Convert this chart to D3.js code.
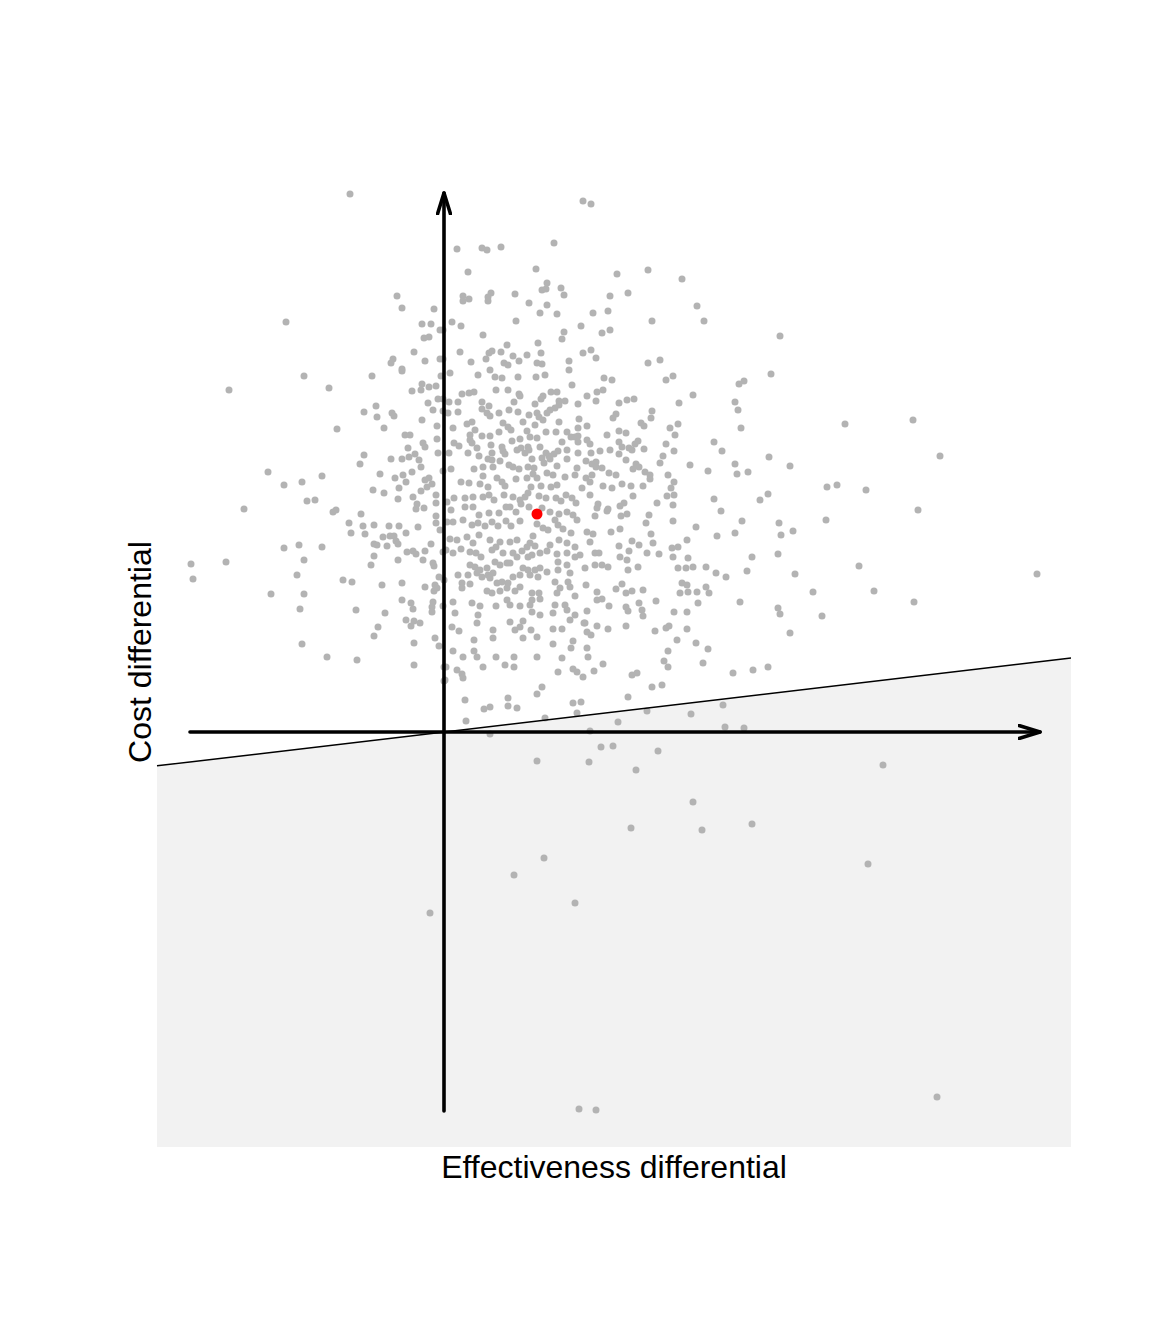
<!DOCTYPE html>
<html>
<head>
<meta charset="utf-8">
<script src="https://cdn.jsdelivr.net/npm/d3@7"></script>
<style>
  body { margin: 0; background: #fff; }
  text { font-family: "Liberation Sans", Arial, Helvetica, sans-serif; }
</style>
</head>
<body>
<div class="vis"></div>
<script>
// simulated [effect, cost] differentials, read off the plane
const sims = [
  [-94,538],[-158,410],[-47,436],[-42,424],[-10,423],[-22,408],[-13,408],[-1,402],[-20,394],[-15,395],
  [-30,380],[-51,373],[-53,369],[-19,371],[-1,373],[-42,363],
  [139,531],[147,528],[13,483],[38,484],[43,482],[57,485],[110,489],[92,463],[24,460],[173,458],
  [204,462],[238,453],[103,449],[98,442],[102,443],[117,444],[120,437],[19,436],[19,431],[25,433],
  [44,435],[44,431],[47,439],[71,438],[85,429],[103,427],[96,419],[113,418],[166,436],[184,439],
  [253,426],[260,411],[208,411],[149,419],[164,421],[8,410],[17,406],[72,411],[39,397],[137,406],
  [120,400],[118,393],[158,399],[166,402],[94,389],[63,387],[16,380],[48,381],[45,379],[57,380],
  [69,376],[83,377],[97,379],[42,373],[27,370],[60,369],[64,367],[75,371],[93,369],[98,368],
  [125,371],[139,379],[147,382],[152,374],[204,369],[216,372],[46,362],[125,362],[-4,402],[-4,373],
  [336,396],
  [327,358],[295,348],[300,351],[291,330],[294,322],[297,304],[401,308],[469,312],[496,276],[325,275],
  [291,268],[293,258],[304,260],[346,266],[383,245],[393,247],[422,242],[474,222],[316,232],[324,238],
  [298,211],[335,209],[382,212],[291,199],[337,197],[349,201],[308,175],[334,178],
  [-140,356],[-215,342],[-115,344],[-72,356],[-42,361],[-3,356],[-22,348],[-15,345],[-8,346],[-32,341],
  [-23,342],[-6,333],[-1,333],[-16,329],[-11,322],[-1,321],[-68,326],[-80,320],[-52,319],[-50,316],
  [-67,315],[-22,312],[-107,303],[-60,304],[-7,306],[-39,297],[-34,297],[-7,293],[-21,289],[-19,285],
  [-36,284],[-6,279],[-80,277],[-84,268],[-53,273],[-42,273],[-35,275],[-29,278],[-25,272],[-23,265],
  [-32,260],[-64,258],[-49,254],[-41,257],[-1,261],[-38,250],[-19,252],[-15,254],[-12,248],[-17,245],
  [-23,241],[-176,260],[-160,247],[-142,250],[-122,256],[-137,231],[-129,232],[-200,223],[-71,242],[-60,239],
  [-45,244],[-46,233],[-31,235],[-27,228],[-28,223],[-20,224],[-8,237],[-8,229],[-8,216],[-8,209],
  [-4,202],[-111,220],[-108,222],[-83,218],[-95,209],[-81,206],[-70,207],[-55,206],[-45,206],[-26,205],
  [-93,199],[-79,198],[-61,195],[-54,196],[-50,196],[-38,199],[-48,191],[-46,188],[-70,188],[-67,187],
  [-57,186],[-13,188],[-160,184],[-145,187],[-122,185],[-70,176],[-37,180],[-31,181],[-28,178],[-19,181],
  [-1,180],[-140,172],[-46,172],
  [-253,168],[-251,153],[-218,170],[-147,157],[-173,138],[-140,138],[-144,123],[-142,88],[-117,75],[-87,72],
  [-101,152],[-92,150],[-88,122],[-73,167],[-62,147],[-42,149],[-59,119],[-42,132],[-33,129],[-31,123],
  [-66,105],[-70,96],[-38,112],[-30,111],[-24,109],[-33,106],[-30,89],[-30,67],[-21,172],[-11,169],
  [-10,166],[-19,145],[-9,147],[-7,144],[-10,141],[-5,155],[0,152],[-11,130],[-12,125],[-12,120],
  [-1,126],[-9,94],[-5,86],[0,65],[0,51],
  [6,359],[34,357],[51,355],[58,354],[74,355],[92,355],[101,357],[128,347],[160,354],[168,352],
  [222,352],[229,356],[18,338],[25,339],[30,340],[52,342],[64,342],[75,338],[76,336],[99,336],
  [107,340],[113,340],[143,336],[153,340],[159,342],[152,331],[183,332],[190,333],[235,329],[249,337],
  [5,330],[14,330],[38,330],[45,326],[70,330],[91,328],[97,333],[115,331],[121,331],[134,328],
  [175,329],[4,319],[14,320],[38,323],[43,319],[46,316],[55,319],[65,322],[74,320],[85,317],
  [93,319],[95,315],[103,319],[106,322],[111,324],[115,327],[135,313],[169,314],[172,318],[208,321],
  [207,314],[197,309],[9,304],[28,310],[23,308],[31,302],[59,309],[64,305],[67,302],[79,310],
  [91,307],[99,312],[115,310],[134,304],[143,306],[134,296],[127,295],[175,301],[182,299],[163,297],
  [200,306],[226,304],[234,308],[231,297],[26,297],[38,296],[46,296],[55,300],[68,291],[76,293],
  [83,301],[86,295],[93,294],[102,300],[112,300],[123,300],[131,295],[10,289],[15,286],[26,292],
  [28,289],[33,284],[47,287],[58,285],[59,281],[77,284],[84,285],[85,282],[96,285],[102,279],
  [118,290],[134,290],[143,292],[146,288],[175,290],[178,285],[185,284],[191,288],[194,291],[200,283],
  [222,288],[230,281],[270,290],[278,281],[5,279],[24,279],[35,276],[44,273],[48,279],[61,278],
  [73,282],[81,279],[88,273],[98,274],[105,276],[110,278],[114,281],[123,282],[123,273],[134,279],
  [147,279],[156,281],[166,282],[175,278],[182,272],[188,282],[219,276],[216,269],[246,267],[264,261],
  [7,263],[30,263],[39,265],[39,256],[48,272],[49,265],[56,271],[65,267],[69,265],[75,263],
  [84,265],[90,264],[100,269],[106,273],[113,266],[133,264],[142,271],[148,268],[152,270],[152,265],
  [158,264],[165,259],[172,257],[192,268],[195,265],[201,260],[206,257],[189,263],[17,250],[25,249],
  [36,248],[44,245],[53,254],[58,250],[61,246],[72,253],[83,254],[89,258],[93,254],[103,259],
  [109,257],[97,246],[107,245],[113,247],[121,255],[131,257],[142,254],[148,257],[138,244],[146,250],
  [159,246],[168,244],[178,248],[187,246],[206,253],[199,246],[224,257],[230,250],[227,244],[3,230],
  [10,234],[21,234],[29,235],[39,235],[45,237],[50,232],[60,237],[69,235],[76,232],[81,235],
  [84,239],[87,245],[95,236],[102,234],[112,234],[117,231],[122,237],[128,234],[132,229],[146,237],
  [154,228],[153,224],[164,223],[180,229],[176,226],[189,236],[213,229],[223,236],[230,237],[229,227],
  [270,233],[277,221],[7,222],[21,225],[29,225],[35,217],[45,219],[55,219],[62,225],[66,225],
  [72,220],[77,228],[85,225],[98,224],[106,220],[115,218],[111,212],[123,220],[129,217],[133,212],
  [151,216],[163,221],[177,216],[183,218],[205,217],[202,209],[229,211],[3,210],[9,210],[19,212],
  [28,207],[34,209],[41,206],[48,210],[54,206],[62,211],[67,206],[76,211],[93,208],[99,204],
  [104,202],[114,207],[119,203],[127,199],[143,200],[149,198],[167,200],[176,203],[188,191],[207,198],
  [243,192],[252,205],[273,196],[6,193],[13,192],[23,195],[29,189],[35,197],[46,192],[52,185],
  [56,190],[66,190],[73,192],[83,185],[86,189],[91,186],[89,196],[106,187],[115,192],[123,189],
  [131,185],[146,190],[155,179],[175,186],[185,181],[195,187],[209,189],[215,178],[228,184],[234,185],
  [2,182],[9,179],[17,183],[26,180],[32,179],[37,175],[48,182],[59,179],[69,179],[78,181],
  [84,175],[96,179],[103,181],[113,178],[123,179],[131,175],[136,177],[151,179],[176,175],
  [51,170],[56,167],[63,169],[26,167],[31,165],[36,162],[43,164],[33,159],[38,155],[44,157],
  [49,159],[14,157],[24,157],[66,169],[73,175],[88,177],[79,164],[84,162],[91,162],[96,164],
  [103,160],[86,157],[94,155],[114,170],[123,167],[114,162],[126,159],[111,150],[124,150],[126,145],
  [141,164],[151,167],[158,167],[164,165],[183,172],[184,162],[194,165],[203,179],[229,175],[234,164],
  [242,164],[249,165],[244,174],[262,165],[272,159],[282,155],[238,149],[243,147],[244,140],[236,139],
  [253,140],[262,145],[265,139],[254,129],[296,130],[18,149],[18,144],[26,148],[46,154],[53,149],
  [58,150],[64,149],[69,155],[76,157],[43,141],[48,139],[56,141],[63,144],[71,141],[76,145],
  [88,139],[95,139],[96,133],[88,132],[113,139],[116,144],[131,136],[142,147],[153,140],[153,132],
  [158,133],[172,143],[178,148],[182,139],[188,141],[199,142],[212,131],[195,129],[198,122],[199,116],
  [182,125],[184,121],[165,126],[230,120],[243,120],[9,130],[11,119],[28,129],[36,126],[34,117],
  [33,109],[52,126],[63,132],[66,127],[76,126],[86,127],[88,120],[96,117],[111,127],[109,119],
  [121,127],[123,122],[126,112],[131,117],[143,121],[141,109],[153,106],[164,103],[182,106],[211,101],
  [222,104],[225,106],[243,103],[233,92],[224,81],[220,71],[224,65],[252,89],[264,83],[259,69],
  [289,59],[8,105],[15,101],[30,92],[49,102],[49,94],[66,110],[71,102],[76,105],[79,111],
  [79,94],[87,102],[93,95],[109,103],[118,103],[109,88],[129,91],[127,84],[140,109],[143,100],
  [147,97],[143,84],[144,75],[9,81],[19,75],[2,65],[1,52],[30,81],[33,75],[52,75],
  [39,65],[61,67],[70,75],[70,65],[93,75],[118,74],[114,60],[129,63],[133,60],[139,55],
  [150,61],[159,68],[13,62],[18,58],[19,54],[188,57],[193,59],[208,45],[218,47],[184,35],
  [93,38],[98,45],[64,34],[64,26],[73,24],[40,23],[46,25],[21,32],[22,11],[129,29],
  [137,30],[133,19],[101,14],[46,-2],[146,1],[174,10],[203,21],[247,18],[279,27],[281,5],
  [303,161],[351,158],[415,166],[593,158],[369,140],[430,141],[334,124],[336,118],[378,116],[470,130],
  [346,99],[309,62],[324,65],[300,4],
  [93,-29],[145,-30],[157,-15],[169,-14],[214,-19],[192,-38],[249,-70],[187,-96],[258,-98],[308,-92],
  [439,-33],[424,-132],[100,-126],[70,-143],[131,-171],[-14,-181],[135,-377],[152,-378],[493,-365]
];
const meanPoint = [93, 218];       // mean differential (red)
const wtpSlope = 0.118;            // threshold line through origin
const xDomain = [-287, 627];
const yDomain = [-415, 575];
const xLabel = "Effectiveness differential";
const yLabel = "Cost differential";

const W = 1152, H = 1344;
const panel = { left: 157, right: 1071, top: 157, bottom: 1147 };

const svg = d3.select(".vis").append("svg")
    .attr("width", W).attr("height", H)
    .style("display", "block")
    .style("background", "#fff");

const x = d3.scaleLinear().domain(xDomain).range([panel.left, panel.right]);
const y = d3.scaleLinear().domain(yDomain).range([panel.bottom, panel.top]);
const line = d3.line().x(d => x(d[0])).y(d => y(d[1]));

// shaded area under the threshold line
const shade = [
    [xDomain[0], wtpSlope * xDomain[0]],
    [xDomain[1], wtpSlope * xDomain[1]],
    [xDomain[1], yDomain[0]],
    [xDomain[0], yDomain[0]]
];
svg.append("path").attr("d", line(shade) + "Z").attr("fill", "#f2f2f2");

// simulations
svg.append("g").selectAll("circle")
    .data(sims)
    .join("circle")
    .attr("cx", d => x(d[0]))
    .attr("cy", d => y(d[1]))
    .attr("r", 3.5)
    .attr("fill", "#b3b3b3");

// threshold line
svg.append("path")
    .attr("d", line([[xDomain[0], wtpSlope * xDomain[0]], [xDomain[1], wtpSlope * xDomain[1]]]))
    .attr("stroke", "#000").attr("stroke-width", 1.5).attr("fill", "none");

// axes as arrows spanning the data
const defs = svg.append("defs");
defs.append("marker")
    .attr("id", "arrow")
    .attr("viewBox", "0 0 26 16")
    .attr("refX", 22).attr("refY", 8)
    .attr("markerUnits", "userSpaceOnUse")
    .attr("markerWidth", 26).attr("markerHeight", 16)
    .attr("orient", "auto")
    .append("path")
    .attr("d", "M1,1.5 L22,8 L1,14.5")
    .attr("fill", "none").attr("stroke", "#000")
    .attr("stroke-width", 3.6).attr("stroke-linecap", "round").attr("stroke-linejoin", "round");

const ex = d3.extent(sims, d => d[0]);
const ey = d3.extent(sims, d => d[1]);
svg.append("path")
    .attr("d", line([[ex[0] - 1, 0], [ex[1] + 3, 0]]))
    .attr("stroke", "#000").attr("stroke-width", 3.6).attr("stroke-linecap", "round")
    .attr("fill", "none").attr("marker-end", "url(#arrow)");
svg.append("path")
    .attr("d", line([[0, ey[0] - 1], [0, ey[1] + 1]]))
    .attr("stroke", "#000").attr("stroke-width", 3.6).attr("stroke-linecap", "round")
    .attr("fill", "none").attr("marker-end", "url(#arrow)");

// mean point
svg.append("circle")
    .attr("cx", x(meanPoint[0])).attr("cy", y(meanPoint[1]))
    .attr("r", 5.5).attr("fill", "#ff0000");

// labels
svg.append("text")
    .attr("x", (panel.left + panel.right) / 2).attr("y", 1178)
    .attr("text-anchor", "middle")
    .style("font-size", "32px")
    .text(xLabel);

svg.append("text")
    .attr("transform", `translate(151, ${(panel.top + panel.bottom) / 2}) rotate(-90)`)
    .attr("text-anchor", "middle")
    .style("font-size", "32px")
    .text(yLabel);
</script>
</body>
</html>
